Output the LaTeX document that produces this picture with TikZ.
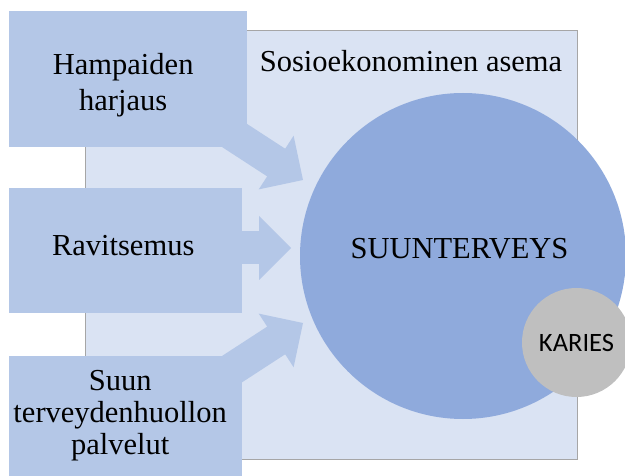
\documentclass[tikz,border=0pt]{standalone}
\usepackage{fontspec}
\setmainfont{Liberation Serif}
\newfontfamily\karfont{Carlito}
\usepackage{tikz}
\usetikzlibrary{positioning, calc}
\definecolor{bgblue}{RGB}{218,227,243}
\definecolor{boxblue}{RGB}{180,199,231}
\definecolor{mainblue}{RGB}{143,170,220}
\definecolor{kargray}{RGB}{191,191,191}
\definecolor{edgegray}{RGB}{166,166,166}
\tikzset{
  box/.style={rectangle, fill=boxblue, inner sep=0pt, anchor=north west},
  boxtext/.style={align=center, inner sep=0pt, font=\fontsize{30.5}{36}\selectfont},
  shaft/.style={line width=33pt, draw=boxblue},
  head/.style={fill=boxblue}
}
\newcommand{\blockarrow}[2]{%
  \coordinate (hb) at ($(#2)!32pt!(#1)$);
  \draw[shaft] (#1) -- ($(#2)!30pt!(#1)$);
  \fill[head] (#2) -- ($(hb)!32pt!90:(#2)$) -- ($(hb)!32pt!-90:(#2)$) -- cycle;
}
\begin{document}
\begin{tikzpicture}[x=1pt, y=-1pt,
  bigtext/.style={inner sep=0pt, font=\fontsize{30.5}{36}\selectfont}]
  \useasboundingbox (0,0) rectangle (625,476);

  \node[rectangle, draw=edgegray, line width=0.75pt, fill=bgblue, inner sep=0pt,
    anchor=north west, minimum width=492pt, minimum height=429pt] (sosio) at (85,30) {};
  \node[bigtext, anchor=base] (sosiotxt) at (411,72) {Sosioekonominen asema};

  \coordinate (hampout) at (180,100);
  \coordinate (hamptip) at (303,180);
  \coordinate (raviout) at (150,248);
  \coordinate (ravitip) at (291,248);
  \coordinate (suunout) at (180,403);
  \coordinate (suuntip) at (303,323);
  \blockarrow{hampout}{hamptip}
  \blockarrow{raviout}{ravitip}
  \blockarrow{suunout}{suuntip}

  \node[box, minimum width=238pt, minimum height=136pt] (hamp) at (9,11) {};
  \node[box, minimum width=233pt, minimum height=125pt] (ravi) at (9,188) {};
  \node[box, minimum width=233pt, minimum height=120pt] (suun) at (9,356) {};

  \node[boxtext, below=42.2pt of hamp.north, xshift=-5pt] (hamptxt) {Hampaiden\\harjaus};
  \node[boxtext, below=46.8pt of ravi.north, xshift=-2.5pt] (ravitxt) {Ravitsemus};
  \node[boxtext, below=14.6pt of suun.north, xshift=-5.5pt,
    font=\fontsize{30.5}{32}\selectfont] (suuntxt) {Suun\\terveydenhuollon\\palvelut};

  \node[circle, fill=mainblue, inner sep=0pt, minimum size=326pt] (suu) at (463,256) {};
  \node[bigtext, anchor=base] (suutxt) at (459.5,259) {SUUNTERVEYS};
  \node[circle, fill=kargray, inner sep=0pt, minimum size=109pt,
    font=\karfont\fontsize{26.5}{30}\selectfont] (kar) at (576.5,342.5) {KARIES};
\end{tikzpicture}
\end{document}
